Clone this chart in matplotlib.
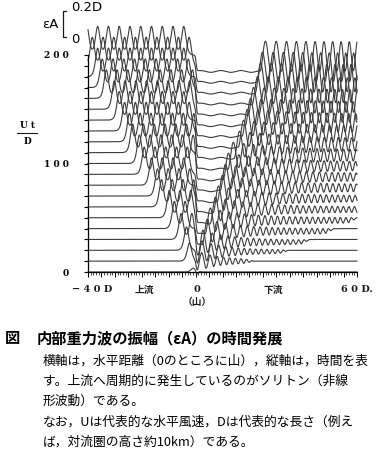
import numpy as np
import matplotlib.pyplot as plt

JP = ['Noto Sans CJK JP', 'DejaVu Sans']
plt.rcParams['font.family'] = JP

# time of each trace (Ut/D)
times = [0, 10, 20, 30, 40, 50, 60, 70, 80, 90, 100,
         110, 120, 130, 140, 150, 160, 170, 180, 190, 200]
# x where the upstream soliton train starts
up_front = [-2.5, -3.9, -5.0, -7.0, -9.5, -11.4, -14.3, -15.8, -18.0, -20.7, -22.5,
            -25.0, -26.2, -28.0, -30.0, -31.8, -34.8, -36.3, -38.0, -40.0, -42.0]
# soliton amplitude (in D)
up_amp = [0.03, 0.14, 0.18, 0.20, 0.21, 0.21, 0.21, 0.21, 0.21, 0.21, 0.22,
          0.22, 0.22, 0.22, 0.22, 0.22, 0.22, 0.22, 0.22, 0.22, 0.22]
# downstream end of the depression behind the mountain
down_front = [0.3, 0.4, 0.5, 0.8, 2.4, 3.5, 5.4, 6.5, 8.0, 9.1, 10.2,
              12.0, 14.3, 15.8, 17.2, 18.4, 19.5, 21.0, 22.1, 22.8, 23.9]
# level of that depression (in D)
plateau = [-0.03, -0.08, -0.11, -0.127, -0.127, -0.127, -0.127, -0.127, -0.127, -0.127, -0.127,
           -0.127, -0.127, -0.127, -0.127, -0.127, -0.127, -0.127, -0.127, -0.127, -0.127]
# mean level of the downstream wave train
wave_mean = [0.0, 0.0, -0.01, -0.02, -0.02, -0.02, -0.02, -0.02, -0.02, -0.02, -0.02,
             -0.02, -0.02, -0.02, -0.02, -0.02, -0.02, -0.02, -0.01, -0.01, -0.01]
# amplitude of the small waves far downstream
far_amp = [0.0, 0.012, 0.012, 0.015, 0.018, 0.02, 0.02, 0.022, 0.025, 0.025, 0.028,
           0.035, 0.04, 0.05, 0.06, 0.07, 0.08, 0.09, 0.10, 0.105, 0.11]
# where the downstream wiggles stop
wiggle_end = [0.5, 20, 33, 41, 50, 58.5, 80, 80, 80, 80, 80,
              80, 80, 80, 80, 80, 80, 80, 80, 80, 80]

K = 119.3  # vertical units per D  (0.2D bracket ~ 24 units)
x = np.linspace(-40, 60, 4000)
dx = x[1] - x[0]


def sech2(z):
    return 1.0 / np.cosh(z) ** 2


fig = plt.figure(figsize=(3.82, 4.5), dpi=100)
ax = fig.add_axes([88 / 382, (450 - 272) / 450, (357 - 88) / 382, (272 - 55) / 450])

for i, t in enumerate(times):
    # upstream soliton train
    up = np.zeros_like(x)
    p = up_front[i] + 1.6
    while p < -0.5:
        up += up_amp[i] * sech2((x - p) / 1.1)
        p += 4.0
    w_up = 0.5 * (1 - np.tanh((x - 0.2) / 0.35))

    # depression behind the mountain with weak ripples
    xd = down_front[i]
    flat = plateau[i] + 0.007 * np.sin(2 * np.pi * x / 7.5)

    # downstream lee-wave train
    m = wave_mean[i]
    a_near = m - plateau[i]
    s = np.clip(x - xd, 0, None)
    env = far_amp[i] + (a_near - far_amp[i]) * np.exp(-s / (6 + 0.15 * t))
    lam = 2.0 + 2.2 * np.exp(-s / (3 + 0.2 * t))
    phase = 2 * np.pi * np.cumsum(np.where(x > xd, dx / lam, 0.0))
    taper = 0.5 * (1 - np.tanh((x - wiggle_end[i]) / 1.5))
    wave = (m - env * np.cos(phase)) * taper

    s_xd = 0.5 * (1 + np.tanh((x - xd) / 0.4))
    down = flat * (1 - s_xd) + wave * s_xd
    s_mtn = 1 - w_up

    eta = up * w_up + down * s_mtn
    ax.plot(x, t + K * eta, color='#3c3c3c', lw=0.8, clip_on=False)

ax.set_xlim(-40, 60)
ax.set_ylim(0, 200)
for side in ['top', 'right']:
    ax.spines[side].set_visible(False)
ax.spines['left'].set_linewidth(0.9)
ax.spines['bottom'].set_linewidth(0.9)

ax.set_yticks(times)
ax.set_yticklabels(['2 0 0' if t == 200 else '1 0 0' if t == 100 else '0' if t == 0 else ''
                    for t in times], family='DejaVu Serif', fontweight='bold', fontsize=6.5)
ax.tick_params(axis='y', direction='out', length=3, width=0.8, pad=11)

ax.set_xticks(np.arange(-40, 61, 5))
ax.set_xticks(np.arange(-40, 61, 1), minor=True)
ax.set_xticklabels([])
ax.tick_params(axis='x', which='major', direction='out', length=3.5, width=0.7)
ax.tick_params(axis='x', which='minor', direction='out', length=2, width=0.5)

# x labels
tr = ax.get_xaxis_transform()
lab = dict(transform=tr, va='center', ha='center', fontsize=7, color='#1a1a1a')
yl = -(290 - 272) / (272 - 55)
ax.text(-38.6, yl, '− 4 0 D', family='DejaVu Serif', fontweight='bold', **lab)
ax.text(-19, yl, '上流', fontweight='bold', **lab)
ax.text(0.5, yl, '0', family='DejaVu Serif', fontweight='bold', **lab)
ax.text(0.5, -(302 - 272) / (272 - 55), '（山）', fontweight='bold', **lab)
ax.text(29, yl, '下流', fontweight='bold', **lab)
ax.text(60, yl, '6 0 D.', family='DejaVu Serif', fontweight='bold', **lab)

# amplitude scale bracket
xb = -49.3
yb0 = (272 - 37) / 1.085
yb1 = yb0 + 0.2 * K
ax.plot([xb + 1.2, xb, xb, xb + 1.2], [yb1, yb1, yb0, yb0], color='#1a1a1a', lw=0.9, clip_on=False)
ax.text(xb + 3.0, yb1 + 3, '0.2D', fontsize=9.5, va='center', ha='left', family='DejaVu Sans', clip_on=False)
ax.text(xb + 3.0, yb0 - 2, '0', fontsize=9.5, va='center', ha='left', family='DejaVu Sans', clip_on=False)
ax.text(xb - 1.5, (yb0 + yb1) / 2, 'εA', fontsize=9.5, va='center', ha='right', family='DejaVu Sans', clip_on=False)

# Ut/D label
fig.text(27 / 382, 1 - 126 / 450, 'U t', ha='center', va='center', fontsize=6.5,
         family='DejaVu Serif', fontweight='bold')
fig.text(27 / 382, 1 - 141 / 450, 'D', ha='center', va='center', fontsize=6.5,
         family='DejaVu Serif', fontweight='bold')
fig.add_artist(plt.Line2D([17 / 382, 37 / 382], [1 - 133 / 450, 1 - 133 / 450],
                          color='#1a1a1a', lw=0.8))

# caption
fig.text(5 / 382, 1 - 338 / 450, '図', fontsize=11, va='center', ha='left', fontweight='bold')
fig.text(37 / 382, 1 - 338 / 450, '内部重力波の振幅（εA）の時間発展', fontsize=11,
         va='center', ha='left', fontweight='bold')
body = ['横軸は，水平距離（0のところに山），縦軸は，時間を表',
        'す。上流へ周期的に発生しているのがソリトン（非線',
        '形波動）である。',
        'なお，Uは代表的な水平風速，Dは代表的な長さ（例え',
        'ば，対流圏の高さ約10km）である。']
for j, line in enumerate(body):
    fig.text(43 / 382, 1 - (361 + 20.3 * j) / 450, line, fontsize=9.2, va='center', ha='left')

fig.savefig('out.png', dpi=100)
